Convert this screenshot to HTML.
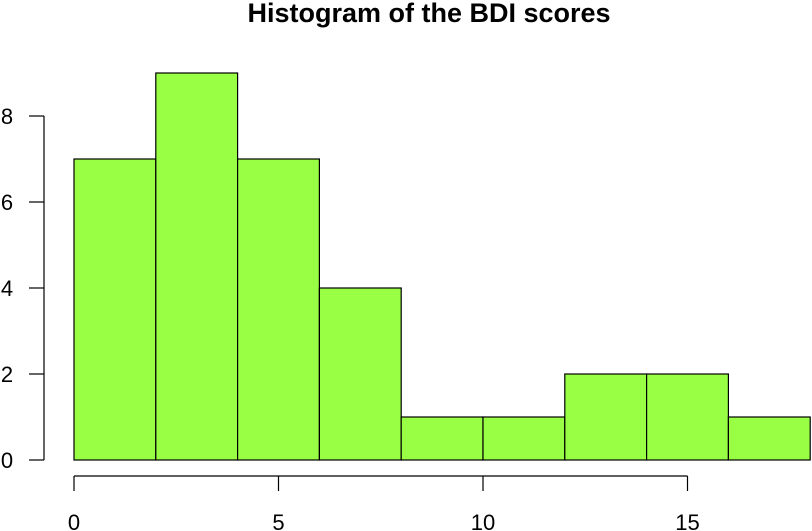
<!DOCTYPE html>
<html><head><meta charset="utf-8"><style>
html,body{margin:0;padding:0;background:#fff;}
svg{display:block;font-family:"Liberation Sans",Arial,sans-serif;}
</style></head><body>
<svg id="chart" width="812" height="531" viewBox="0 0 812 531">
<text x="429" y="22" text-anchor="middle" font-size="27" font-weight="bold">Histogram of the BDI scores</text>
<g id="bars"></g>
<g id="xaxis"></g>
<g id="yaxis"></g>
</svg>
<script>
const binStarts = [0,2,4,6,8,10,12,14,16];
const binWidth = 2;
const counts = [7,9,7,4,1,1,2,2,1];
const xTicks = [0,5,10,15];
const yTicks = [0,2,4,6,8];

const NS = 'http://www.w3.org/2000/svg';
function xs(v){ return 74 + v*40.9; }
function ys(v){ return 460 - v*43; }
function mk(tag, attrs, parent){
  const e = document.createElementNS(NS, tag);
  for (const k in attrs) e.setAttribute(k, attrs[k]);
  parent.appendChild(e); return e;
}
const bars = document.getElementById('bars');
binStarts.forEach((b,i)=>{
  const r = mk('rect',{x:xs(b),y:ys(counts[i]),width:xs(b+binWidth)-xs(b),height:ys(0)-ys(counts[i]),fill:'#99ff44',stroke:'#000','stroke-width':1.2},bars);
  
  
});
const xa = document.getElementById('xaxis');
const xl = mk('line',{x1:xs(xTicks[0]),x2:xs(xTicks[xTicks.length-1]),y1:476,y2:476,stroke:'#000','stroke-width':1.2},xa);


xTicks.forEach(t=>{
  const tk = mk('line',{x1:xs(t),x2:xs(t),y1:476,y2:491,stroke:'#000','stroke-width':1.2},xa);
  
  
  const tx = mk('text',{x:xs(t),y:530,'text-anchor':'middle','font-size':22},xa);
  tx.textContent = t;
  
  
});
const ya = document.getElementById('yaxis');
const yl = mk('line',{x1:44,x2:44,y1:ys(yTicks[0]),y2:ys(yTicks[yTicks.length-1]),stroke:'#000','stroke-width':1.2},ya);


yTicks.forEach(t=>{
  const tk = mk('line',{x1:29,x2:44,y1:ys(t),y2:ys(t),stroke:'#000','stroke-width':1.2},ya);
  
  
  const tx = mk('text',{x:7,y:ys(t)+8,'text-anchor':'middle','font-size':22},ya);
  tx.textContent = t;
  
  
});
</script>
</body></html>
